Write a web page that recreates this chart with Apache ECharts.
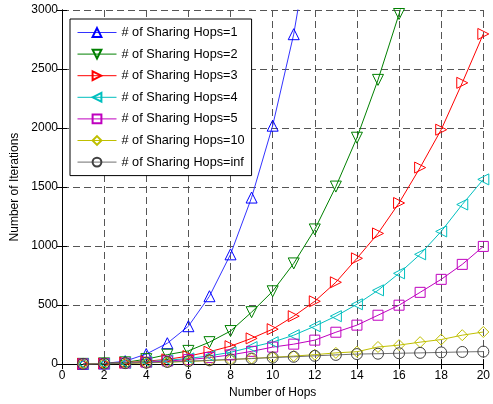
<!DOCTYPE html>
<html>
<head>
<meta charset="utf-8">
<style>
  html, body { margin: 0; padding: 0; background: #fff; }
  #chart { width: 493px; height: 404px; }
</style>
<script src="https://cdn.jsdelivr.net/npm/echarts@6/dist/echarts.min.js"></script>
</head>
<body>
<div id="chart"></div>
<script>
// hops on the x axis
const hops = [1, 2, 3, 4, 5, 6, 7, 8, 9, 10, 11, 12, 13, 14, 15, 16, 17, 18, 19, 20];

// iterations per sharing-hop setting
const share1 = [2, 5, 25, 85, 177, 321, 575, 930, 1411, 2020, 2795, 3850];
const share2 = [2, 6, 15, 42, 80, 112, 186, 280, 440, 617, 853, 1141, 1504, 1918, 2408, 2966, 3600];
const share3 = [2, 5, 12, 25, 40, 68, 105, 152, 218, 296, 406, 532, 693, 896, 1107, 1365, 1665, 1986, 2383, 2797];
const share4 = [2, 4, 10, 20, 32, 48, 70, 100, 144, 186, 245, 321, 406, 507, 625, 769, 930, 1124, 1352, 1565];
const share5 = [2, 4, 8, 16, 26, 38, 55, 78, 108, 144, 169, 203, 270, 330, 414, 499, 608, 718, 845, 997];
const share10 = [2, 3, 6, 10, 16, 22, 30, 38, 48, 58, 68, 80, 95, 105, 145, 161, 186, 208, 245, 272];
const shareInf = [2, 4, 8, 12, 18, 25, 32, 40, 47, 55, 62, 70, 78, 85, 88, 92, 95, 99, 103, 106];

const xTicks = [0, 2, 4, 6, 8, 10, 12, 14, 16, 18, 20];
const yTicks = [0, 500, 1000, 1500, 2000, 2500, 3000];

const seriesDefs = [
  { name: "# of Sharing Hops=1", data: share1, color: "#0000ff", line: "#3333ff", symbol: "triangle", rotate: 0 },
  { name: "# of Sharing Hops=2", data: share2, color: "#008000", line: "#008000", symbol: "triangle", rotate: 180 },
  { name: "# of Sharing Hops=3", data: share3, color: "#ff0000", line: "#ff0000", symbol: "triangle", rotate: -90 },
  { name: "# of Sharing Hops=4", data: share4, color: "#00bfbf", line: "#00bfbf", symbol: "triangle", rotate: 90 },
  { name: "# of Sharing Hops=5", data: share5, color: "#bf00bf", line: "#bf00bf", symbol: "rect", rotate: 0 },
  { name: "# of Sharing Hops=10", data: share10, color: "#bfbf00", line: "#bfbf00", symbol: "diamond", rotate: 0 },
  { name: "# of Sharing Hops=inf", data: shareInf, color: "#404040", line: "#707070", symbol: "circle", rotate: 0 },
];

const font = "Liberation Sans, Arial, sans-serif";
const gridDash = { color: "#555", type: [7, 4], width: 1 };

const chart = echarts.init(document.getElementById("chart"));

chart.setOption({
  animation: false,
  backgroundColor: "#fff",
  textStyle: { fontFamily: font },
  grid: { left: 62, right: 9, top: 10, bottom: 39 },
  legend: {
    orient: "vertical",
    left: 70,
    top: 19,
    padding: [7, 7, 7, 7],
    itemWidth: 39,
    itemHeight: 11,
    itemGap: 8.6,
    backgroundColor: "#fff",
    borderColor: "#000",
    borderWidth: 1,
    lineStyle: { width: 1 },
    textStyle: { fontFamily: font, fontSize: 12.7, color: "#000" },
    data: seriesDefs.map((s) => s.name),
  },
  xAxis: [
    {
      type: "value",
      min: 0,
      max: 20,
      interval: 2,
      name: "Number of Hops",
      nameLocation: "middle",
      nameGap: 22,
      nameTextStyle: { fontFamily: font, fontSize: 12, color: "#000" },
      axisLine: { lineStyle: { color: "#000" } },
      axisTick: { inside: true, length: 5, lineStyle: { color: "#000" } },
      axisLabel: {
        margin: 6,
        fontFamily: font,
        fontSize: 12,
        color: "#000",
        formatter: (v) => (xTicks.includes(v) ? String(v) : ""),
      },
      splitLine: { show: true, lineStyle: gridDash },
    },
    {
      type: "value",
      position: "top",
      min: 0,
      max: 20,
      interval: 2,
      axisLine: { show: true, lineStyle: { color: "#000" } },
      axisTick: { show: true, inside: true, length: 5, lineStyle: { color: "#000" } },
      axisLabel: { show: false },
      splitLine: { show: false },
    },
  ],
  yAxis: [
    {
      type: "value",
      min: 0,
      max: 3000,
      interval: 500,
      name: "Number of Iterations",
      nameLocation: "middle",
      nameGap: 41,
      nameTextStyle: { fontFamily: font, fontSize: 12, color: "#000" },
      axisLine: { show: true, lineStyle: { color: "#000" } },
      axisTick: { show: true, inside: true, length: 5, lineStyle: { color: "#000" } },
      axisLabel: {
        margin: 4,
        fontFamily: font,
        fontSize: 12,
        color: "#000",
        formatter: (v) => (yTicks.includes(v) ? String(v) : ""),
      },
      splitLine: { show: true, lineStyle: gridDash },
    },
    {
      type: "value",
      position: "right",
      min: 0,
      max: 3000,
      interval: 500,
      axisLine: { show: true, lineStyle: { color: "#000" } },
      axisTick: { show: true, inside: true, length: 5, lineStyle: { color: "#000" } },
      axisLabel: { show: false },
      splitLine: { show: false },
    },
  ],
  series: seriesDefs.map((s) => ({
    name: s.name,
    type: "line",
    data: s.data.map((v, i) => [hops[i], v]),
    symbol: s.symbol,
    symbolSize: s.symbol === "rect" ? 10 : 11,
    symbolRotate: s.rotate,
    showAllSymbol: true,
    clip: true,
    color: s.color,
    lineStyle: { color: s.line, width: 1 },
    itemStyle: { color: "rgba(255,255,255,0)", borderColor: s.color, borderWidth: 1 },
    emphasis: { disabled: true },
  })),
});
</script>
</body>
</html>
